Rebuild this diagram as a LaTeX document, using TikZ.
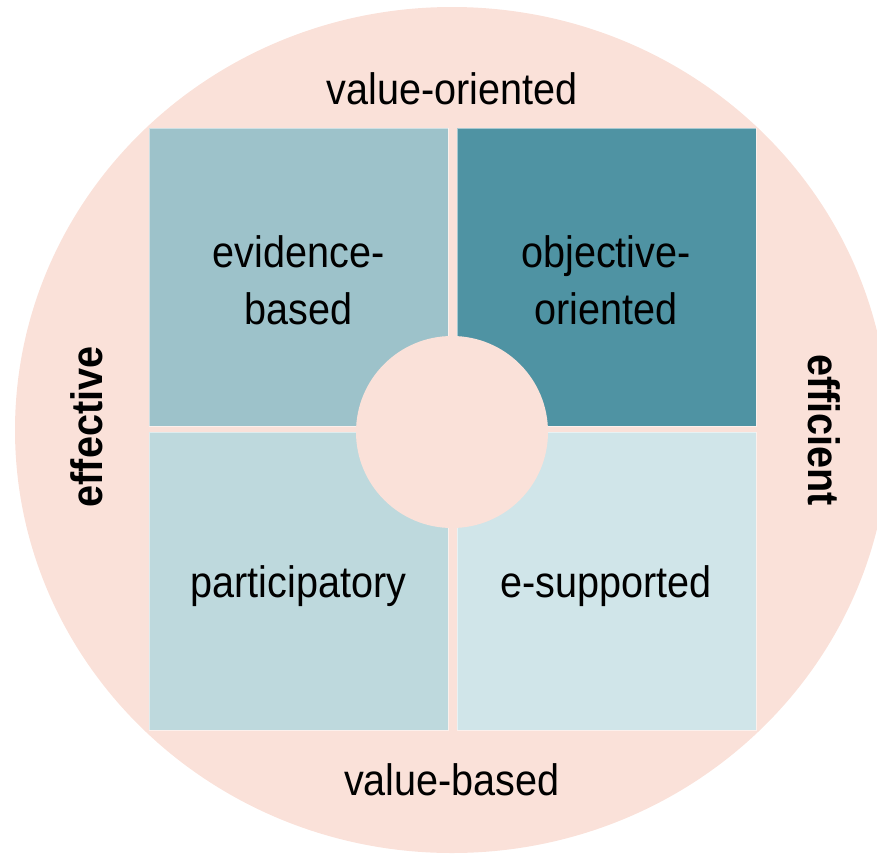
\documentclass[tikz,border=0pt]{standalone}
\usepackage{fontspec}
\setmainfont[FakeStretch=0.9]{Liberation Sans}
\definecolor{ringpink}{HTML}{FAE1D9}
\definecolor{evidblue}{HTML}{9DC2CA}
\definecolor{objblue}{HTML}{4F93A3}
\definecolor{partblue}{HTML}{BED9DD}
\definecolor{esupblue}{HTML}{D0E5E9}

\begin{document}
\begin{tikzpicture}[x=1pt,y=-1pt]
    \tikzstyle{every node} = [font=\fontsize{44}{57}\selectfont, inner sep=0pt]
    \tikzstyle{cell} = [rectangle, anchor=north west, minimum width=299pt, minimum height=298pt, draw=white, draw opacity=0.5, line width=0.8pt]
    \tikzstyle{side} = [font=\fontsize{44}{57}\selectfont\bfseries, anchor=base]
    \clip (0,0) rectangle (877,854);
    % outer ring
    \fill[ringpink] (452,430) ellipse [x radius=437, y radius=423];

    % place nodes
    \node[cell,fill=evidblue](evidence) at (149,128){};
    \node[cell,fill=objblue](objective) at (457,128){};
    \node[cell,fill=partblue](participatory) at (149,432){};
    \node[cell,fill=esupblue](esupported) at (457,432){};
    \node[circle,fill=ringpink,minimum size=192pt](hub) at (452,432){};

    % Labels
    \node[align=center](evidenceText) at (298.5,280){evidence-\\based};
    \node[align=center](objectiveText) at (606,280){objective-\\oriented};
    \node[anchor=base](participatoryText) at (298.5,597){participatory};
    \node[anchor=base](esupportedText) at (606,597){e-supported};
    \node[anchor=base](valueOriented) at (452,104){value-oriented};
    \node[anchor=base](valueBased) at (452,795){value-based};
    \node[side,rotate=90](effective) at (102,427){effective};
    \node[side,rotate=-90](efficient) at (808,430){efficient};

  \end{tikzpicture}
\end{document}
